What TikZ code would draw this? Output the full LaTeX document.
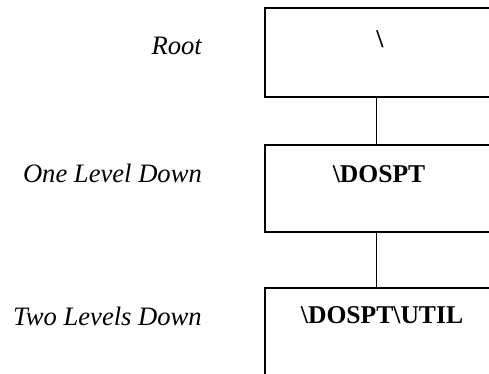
\documentclass[tikz,border=0pt]{standalone}
\usepackage{fontspec}
\setmainfont{Liberation Serif}
\begin{document}
\begin{tikzpicture}[x=1pt,y=-1pt,
  box/.style={draw,line width=1.5pt,rectangle,anchor=north west,inner sep=0pt,minimum width=240pt},
  link/.style={line width=0.9pt},
  lvl/.style={font=\fontsize{26.6}{31}\selectfont\itshape,anchor=base east,inner sep=0pt},
  dirlabel/.style={font=\fontsize{25.6}{30}\selectfont\bfseries,anchor=base,inner sep=0pt}
]
\useasboundingbox (0,0) rectangle (489,373);
\clip (0,0) rectangle (489,373);
\node[box,minimum height=89pt] (b1) at (264,7) {};
\node[box,minimum height=87pt] (b2) at (264,144) {};
\node[box,minimum height=100pt] (b3) at (264,287) {};
\draw[link] ([xshift=112pt]b1.south west) -- ([xshift=112pt]b2.north west);
\draw[link] ([xshift=112pt]b2.south west) -- ([xshift=112pt]b3.north west);
\node[dirlabel] (t1) at (380,47) {\textbackslash};
\node[dirlabel] (t2) at (379,182) {\textbackslash DOSPT};
\node[dirlabel] (t3) at (382,323) {\textbackslash DOSPT\textbackslash UTIL};
\node[lvl] (l1) at (202,54) {Root};
\node[lvl] (l2) at (202,182) {One Level Down};
\node[lvl] (l3) at (202,325) {Two Levels Down};
\end{tikzpicture}
\end{document}
